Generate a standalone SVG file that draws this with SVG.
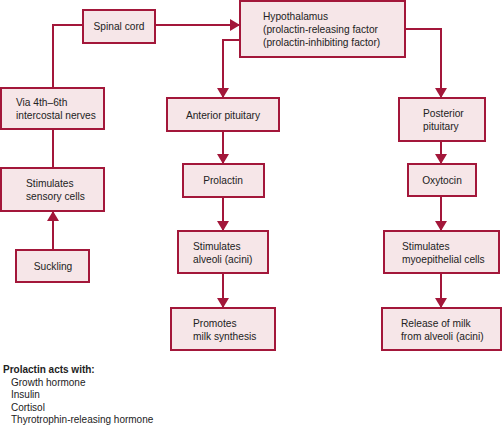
<svg xmlns="http://www.w3.org/2000/svg" width="502" height="426" viewBox="0 0 502 426">
<defs>
<marker id="ah" markerUnits="userSpaceOnUse" markerWidth="10" markerHeight="12" refX="10" refY="6" orient="auto" viewBox="0 0 10 12">
<path d="M0,0 L10,6 L0,12 z" fill="#a3173a"/>
</marker>
<style>
.box{fill:#f6e6e8;stroke:#a3173a;stroke-width:2}
.ln{fill:none;stroke:#a3173a;stroke-width:2}
.arr{fill:none;stroke:#a3173a;stroke-width:2;marker-end:url(#ah)}
text{font-family:"Liberation Sans",Arial,sans-serif;font-size:10.2px;fill:#222}
.c{text-anchor:middle}
.b{font-weight:bold;font-size:10px}
.lg{font-size:10px}
</style>
</defs>
<rect width="502" height="426" fill="#ffffff"/>
<g id="connectors">
<line class="arr" x1="155" y1="25" x2="240" y2="25"/>
<polyline class="arr" points="240,40 223,40 223,98"/>
<polyline class="arr" points="405,29 441,29 441,98"/>
<line class="arr" x1="223" y1="131" x2="223" y2="164"/>
<line class="arr" x1="223" y1="197" x2="223" y2="231"/>
<line class="arr" x1="223" y1="273" x2="223" y2="308"/>
<line class="arr" x1="441" y1="141" x2="441" y2="164"/>
<line class="arr" x1="441" y1="196" x2="441" y2="231"/>
<line class="arr" x1="441" y1="273" x2="441" y2="308"/>
<line class="arr" x1="53" y1="250" x2="53" y2="211"/>
<line class="ln" x1="53" y1="168" x2="53" y2="129"/>
<polyline class="ln" points="53,88 53,25 83,25"/>
</g>
<g id="spinal-cord">
<rect class="box" x="83" y="10" width="72" height="33"/>
<text class="c" x="119" y="30">Spinal cord</text>
</g>
<g id="hypothalamus">
<rect class="box" x="240" y="1" width="165" height="56"/>
<text x="263" y="20">Hypothalamus</text>
<text x="263" y="33">(prolactin-releasing factor</text>
<text x="263" y="46">(prolactin-inhibiting factor)</text>
</g>
<g id="via-nerves">
<rect class="box" x="1" y="88" width="103" height="41"/>
<text x="16" y="106">Via 4th–6th</text>
<text x="16" y="119">intercostal nerves</text>
</g>
<g id="sensory-cells">
<rect class="box" x="1" y="168" width="103" height="43"/>
<text x="26" y="187">Stimulates</text>
<text x="26" y="200">sensory cells</text>
</g>
<g id="suckling">
<rect class="box" x="16" y="250" width="73" height="32"/>
<text class="c" x="53" y="270">Suckling</text>
</g>
<g id="anterior-pituitary">
<rect class="box" x="167" y="98" width="112" height="33"/>
<text class="c" x="223" y="119">Anterior pituitary</text>
</g>
<g id="prolactin">
<rect class="box" x="183" y="164" width="81" height="33"/>
<text class="c" x="223" y="184">Prolactin</text>
</g>
<g id="stim-alveoli">
<rect class="box" x="178" y="231" width="90" height="42"/>
<text x="193" y="250">Stimulates</text>
<text x="193" y="263">alveoli (acini)</text>
</g>
<g id="milk-synthesis">
<rect class="box" x="171" y="308" width="104" height="42"/>
<text x="193" y="327">Promotes</text>
<text x="193" y="340">milk synthesis</text>
</g>
<g id="posterior-pituitary">
<rect class="box" x="399" y="98" width="86" height="43"/>
<text x="423" y="117">Posterior</text>
<text x="423" y="130">pituitary</text>
</g>
<g id="oxytocin">
<rect class="box" x="408" y="164" width="68" height="32"/>
<text class="c" x="442" y="184">Oxytocin</text>
</g>
<g id="stim-myoepithelial">
<rect class="box" x="384" y="231" width="115" height="42"/>
<text x="402" y="250">Stimulates</text>
<text x="402" y="263">myoepithelial cells</text>
</g>
<g id="release-milk">
<rect class="box" x="382" y="308" width="119" height="42"/>
<text x="401" y="327">Release of milk</text>
<text x="401" y="340">from alveoli (acini)</text>
</g>
<g id="legend">
<text class="b" x="3" y="373">Prolactin acts with:</text>
<text class="lg" x="11" y="386">Growth hormone</text>
<text class="lg" x="11" y="398">Insulin</text>
<text class="lg" x="11" y="411">Cortisol</text>
<text class="lg" x="11" y="423">Thyrotrophin-releasing hormone</text>
</g>
</svg>
